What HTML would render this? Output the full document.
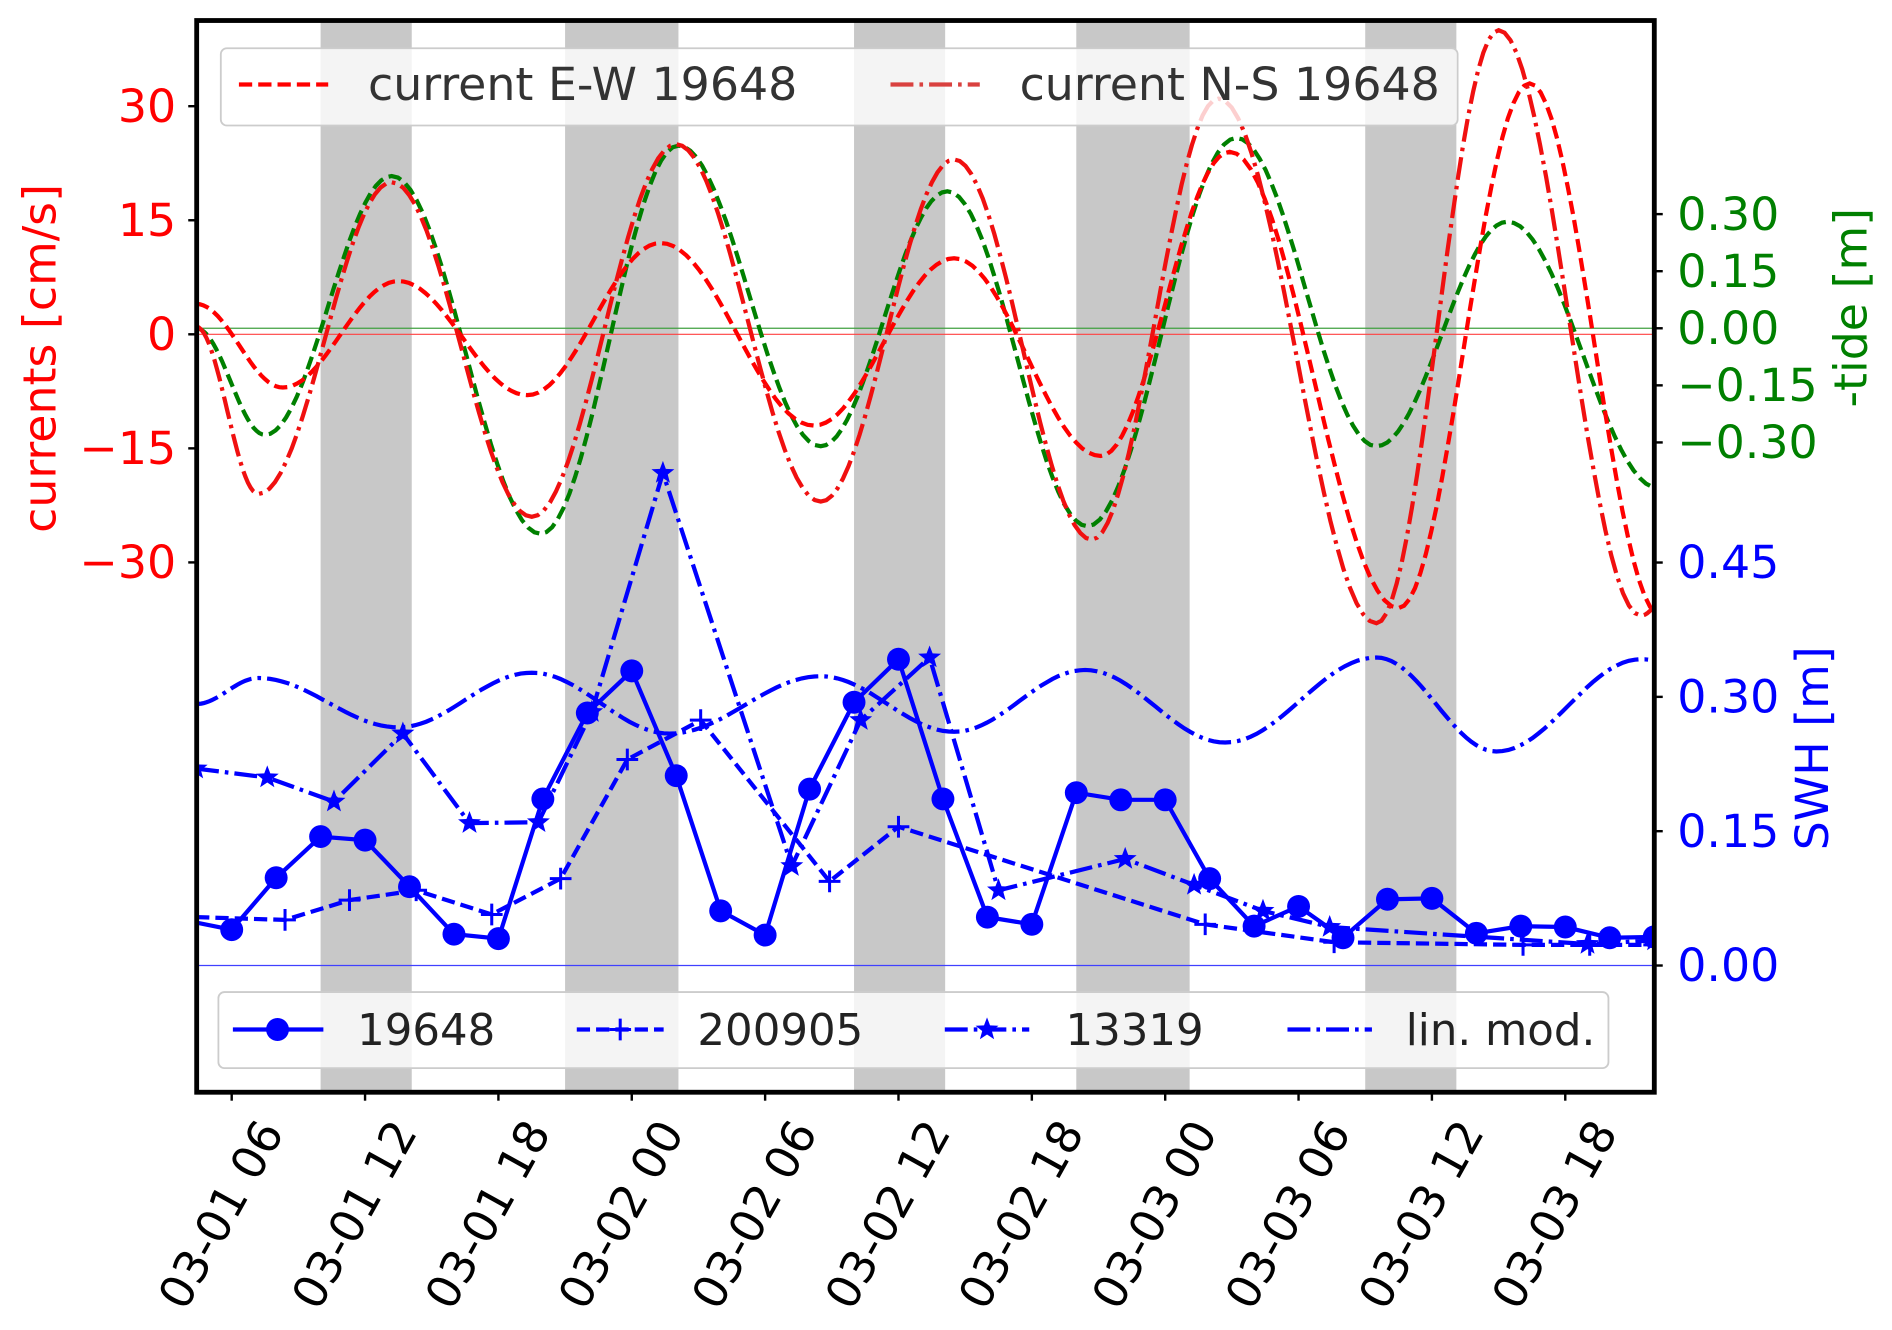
<!DOCTYPE html>
<html><head><meta charset="utf-8"><style>
html,body{margin:0;padding:0;background:#fff}
svg{display:block}
text{font-family:"DejaVu Sans","Liberation Sans",sans-serif}
</style></head><body>
<svg id="chart" width="1892" height="1330" viewBox="0 0 1568 1102" preserveAspectRatio="none" xmlns="http://www.w3.org/2000/svg">
<defs><clipPath id="clip"><rect x="163" y="17" width="1208" height="888"/></clipPath></defs>
<g id="bands" clip-path="url(#clip)"></g>
<g id="hlines" clip-path="url(#clip)"></g>
<g id="series" clip-path="url(#clip)"></g>
<g id="legends"></g>
<rect x="163" y="17" width="1208" height="888" fill="none" stroke="#000" stroke-width="4"/>
<g id="axes"></g>
</svg>
<script>
// ---- data (hours since 03-01 00) ----
const xTickHours = [6,12,18,24,30,36,42,48,54,60,66];
const xTickLabels = ["03-01 06","03-01 12","03-01 18","03-02 00","03-02 06","03-02 12","03-02 18","03-03 00","03-03 06","03-03 12","03-03 18"];
const bandStarts = [10,21,34,44,57];
const bandEnds = [14.1,26.1,38.1,49.1,61.1];
const currentTicks = [30,15,0,-15,-30];
const tideTicks = [0.30,0.15,0.00,-0.15,-0.30];
const swhTicks = [0.45,0.30,0.15,0.00];
// currents (cm/s) extremes
const nsHours = [4.4,7.2,13.2,19.5,26.0,32.5,38.5,44.7,50.4,57.5,63.0,69.4,70.5];
const nsValues = [1,-21,20,-24,25,-22,23,-27,31,-38,40,-37,-35];
const ewHours = [4.4,8.3,13.5,19.3,25.3,32.2,38.5,45.1,50.9,58.5,64.4,70.3];
const ewValues = [4,-7,7,-8,12,-12,10,-16,24,-36,33,-37];
// -tide (m) extremes
const tideHours = [4.4,7.5,13.2,19.9,26.1,32.5,38.2,44.5,51.2,57.5,63.4,70.2];
const tideValues = [0,-0.28,0.40,-0.54,0.48,-0.31,0.36,-0.52,0.50,-0.31,0.28,-0.42];
// lin. mod. SWH extremes
const linHours = [4.4,7.2,13.5,19.5,25.7,32.5,38.5,44.4,50.7,57.5,62.9,69.4,70.5];
const linValues = [0.292,0.321,0.266,0.327,0.259,0.323,0.261,0.330,0.249,0.344,0.239,0.342,0.340];
// SWH 19648 every 2h from 4h
const s19648Hours = [4,6,8,10,12,14,16,18,20,22,24,26,28,30,32,34,36,38,40,42,44,46,48,50,52,54,56,58,60,62,64,66,68,70];
const s19648Values = [0.050,0.040,0.098,0.144,0.140,0.088,0.035,0.030,0.186,0.282,0.329,0.212,0.061,0.034,0.197,0.294,0.342,0.186,0.054,0.046,0.193,0.185,0.185,0.097,0.044,0.066,0.031,0.074,0.075,0.036,0.044,0.043,0.031,0.032];
// SWH 200905
const s200905Hours = [4.4,8.4,11.3,14.3,17.7,20.8,23.8,27.1,32.9,36.0,49.8,55.6,64.1,67.1,70.0];
const s200905Values = [0.054,0.051,0.073,0.084,0.057,0.097,0.230,0.274,0.094,0.155,0.046,0.026,0.023,0.023,0.023];
// SWH 13319
const s13319Hours = [4.4,7.6,10.6,13.7,16.7,19.8,22.2,25.4,31.2,34.3,37.4,40.5,46.2,49.3,52.4,55.4,67.0,70.0];
const s13319Values = [0.220,0.210,0.183,0.259,0.159,0.160,0.283,0.550,0.111,0.274,0.344,0.084,0.119,0.090,0.061,0.043,0.024,0.028];

// ---- axis functions ----
const X = h => 81.5 + 18.42*h;
const YC = v => 277 - v*6.3;
const YT = v => 272 - v*315.3;
const YS = v => 800 - v*742;
const NS = "http://www.w3.org/2000/svg";
function mk(tag, attrs, parent){const e=document.createElementNS(NS,tag);for(const k in attrs)e.setAttribute(k,attrs[k]);parent.appendChild(e);return e;}
function smoothPath(hs, vs, yf){
  let d = "M"+X(hs[0]).toFixed(1)+","+yf(vs[0]).toFixed(1);
  for(let i=0;i<hs.length-1;i++){
    const steps=24;
    for(let s=1;s<=steps;s++){
      const t=s/steps, w=(1-Math.cos(Math.PI*t))/2;
      const h=hs[i]+(hs[i+1]-hs[i])*t, v=vs[i]+(vs[i+1]-vs[i])*w;
      d+=" L"+X(h).toFixed(1)+","+yf(v).toFixed(1);
    }
  }
  return d;
}
function linePath(hs, vs, yf){return hs.map((h,i)=>(i?"L":"M")+X(h).toFixed(1)+","+yf(vs[i]).toFixed(1)).join(" ");}
function starPts(cx,cy,r){let p=[];for(let i=0;i<10;i++){const a=-Math.PI/2+i*Math.PI/5, rr=i%2?r*0.42:r;p.push((cx+rr*Math.cos(a)).toFixed(1)+","+(cy+rr*Math.sin(a)).toFixed(1));}return p.join(" ");}
const DASH="11,5", DASHDOT="19,5,3,5";
const FS=38;

// bands
const bands=document.getElementById('bands');
bandStarts.forEach((b,i)=>{
  const r=mk('rect',{x:X(b),y:17,width:X(bandEnds[i])-X(b),height:888,fill:'#c8c8c8'},bands);
  
  
});
// zero lines
const hl=document.getElementById('hlines');
let z1=mk('line',{x1:163,x2:1371,y1:YC(0),y2:YC(0),stroke:'#ff4040','stroke-width':1},hl);

let z2=mk('line',{x1:163,x2:1371,y1:YT(0),y2:YT(0),stroke:'#40a040','stroke-width':1},hl);

let z3=mk('line',{x1:163,x2:1371,y1:YS(0),y2:YS(0),stroke:'#4040ff','stroke-width':1},hl);


const sg=document.getElementById('series');
let p;
p=mk('path',{d:smoothPath(tideHours,tideValues,YT),fill:'none',stroke:'#008000','stroke-width':3.5,'stroke-dasharray':DASH},sg);

p=mk('path',{d:smoothPath(ewHours,ewValues,YC),fill:'none',stroke:'#ff0000','stroke-width':3.5,'stroke-dasharray':DASH},sg);

p=mk('path',{d:smoothPath(nsHours,nsValues,YC),fill:'none',stroke:'#f01010','stroke-width':3.5,'stroke-dasharray':DASHDOT},sg);

p=mk('path',{d:smoothPath(linHours,linValues,YS),fill:'none',stroke:'#0000ff','stroke-width':3.5,'stroke-dasharray':DASHDOT},sg);

p=mk('path',{d:linePath(s200905Hours,s200905Values,YS),fill:'none',stroke:'#0000ff','stroke-width':3.5,'stroke-dasharray':DASH},sg);

s200905Hours.forEach((h,i)=>{
  const x=X(h),y=YS(s200905Values[i]);
  const m=mk('path',{d:`M${x-9},${y}H${x+9}M${x},${y-9}V${y+9}`,stroke:'#0000ff','stroke-width':2.5},sg);
  
});
p=mk('path',{d:linePath(s13319Hours,s13319Values,YS),fill:'none',stroke:'#0000ff','stroke-width':3.5,'stroke-dasharray':DASHDOT},sg);

s13319Hours.forEach((h,i)=>{
  const m=mk('polygon',{points:starPts(X(h),YS(s13319Values[i]),10),fill:'#0000ff'},sg);
  
});
p=mk('path',{d:linePath(s19648Hours,s19648Values,YS),fill:'none',stroke:'#0000ff','stroke-width':3.5},sg);

s19648Hours.forEach((h,i)=>{
  const m=mk('circle',{cx:X(h),cy:YS(s19648Values[i]),r:9.5,fill:'#0000ff'},sg);
  
});

// legends
const lg=document.getElementById('legends');
let box=mk('rect',{x:183,y:40,width:1025,height:64,rx:5,fill:'#fff','fill-opacity':0.8,stroke:'#ccc','stroke-width':1.5},lg);

let l=mk('line',{x1:198,x2:272,y1:70,y2:70,stroke:'#ff0000','stroke-width':3.5,'stroke-dasharray':DASH},lg);

let t=mk('text',{x:305,y:83,'font-size':FS,fill:'#333'},lg);t.textContent='current E-W 19648';

l=mk('line',{x1:738,x2:812,y1:70,y2:70,stroke:'#d9413f','stroke-width':3.5,'stroke-dasharray':DASHDOT},lg);

t=mk('text',{x:845,y:83,'font-size':FS,fill:'#333'},lg);t.textContent='current N-S 19648';


box=mk('rect',{x:181,y:822,width:1152,height:63,rx:5,fill:'#fff','fill-opacity':0.8,stroke:'#ccc','stroke-width':1.5},lg);

const ly=853;
l=mk('line',{x1:193,x2:268,y1:ly,y2:ly,stroke:'#0000ff','stroke-width':3.5},lg);

mk('circle',{cx:230,cy:ly,r:9.5,fill:'#0000ff'},lg);
t=mk('text',{x:296,y:866,'font-size':36,fill:'#222'},lg);t.textContent='19648';

l=mk('line',{x1:478,x2:550,y1:ly,y2:ly,stroke:'#0000ff','stroke-width':3.5,'stroke-dasharray':DASH},lg);

mk('path',{d:`M505,${ly}H523M514,${ly-9}V${ly+9}`,stroke:'#0000ff','stroke-width':2.5},lg);
t=mk('text',{x:578,y:866,'font-size':36,fill:'#222'},lg);t.textContent='200905';

l=mk('line',{x1:783,x2:853,y1:ly,y2:ly,stroke:'#0000ff','stroke-width':3.5,'stroke-dasharray':DASHDOT},lg);

mk('polygon',{points:starPts(818,ly,10),fill:'#0000ff'},lg);
t=mk('text',{x:883,y:866,'font-size':36,fill:'#222'},lg);t.textContent='13319';

l=mk('line',{x1:1067,x2:1137,y1:ly,y2:ly,stroke:'#0000ff','stroke-width':3.5,'stroke-dasharray':DASHDOT},lg);

t=mk('text',{x:1165,y:866,'font-size':36,fill:'#222'},lg);t.textContent='lin. mod.';


// axes
const ax=document.getElementById('axes');
currentTicks.forEach(v=>{
  const y=YC(v);
  mk('line',{x1:156,x2:163,y1:y,y2:y,stroke:'#000','stroke-width':2},ax);
  const tx=mk('text',{x:146,y:y+13,'font-size':FS,fill:'#ff0000','text-anchor':'end'},ax);
  tx.textContent=(v<0?'\u2212':'')+Math.abs(v);
  
});
tideTicks.forEach(v=>{
  const y=YT(v);
  mk('line',{x1:1371,x2:1378,y1:y,y2:y,stroke:'#000','stroke-width':2},ax);
  const tx=mk('text',{x:1390,y:y+13,'font-size':FS,fill:'#008000'},ax);
  tx.textContent=(v<0?'\u2212':'')+Math.abs(v).toFixed(2);
  
});
swhTicks.forEach(v=>{
  const y=YS(v);
  mk('line',{x1:1371,x2:1378,y1:y,y2:y,stroke:'#000','stroke-width':2},ax);
  const tx=mk('text',{x:1390,y:y+13,'font-size':FS,fill:'#0000ff'},ax);
  tx.textContent=v.toFixed(2);
  
});
xTickHours.forEach((h,i)=>{
  const x=X(h);
  mk('line',{x1:x,x2:x,y1:905,y2:912,stroke:'#000','stroke-width':2},ax);
  const ax0=x+44, ay0=938;
  const tx=mk('text',{x:ax0,y:ay0,'font-size':FS,fill:'#000','text-anchor':'end',transform:`rotate(-61 ${ax0} ${ay0})`},ax);
  tx.textContent=xTickLabels[i];
  
});
let at=mk('text',{x:0,y:0,'font-size':FS,fill:'#ff0000','text-anchor':'middle',transform:'translate(46,297) rotate(-90)'},ax);
at.textContent='currents [cm/s]';
at=mk('text',{x:0,y:0,'font-size':FS,fill:'#008000','text-anchor':'middle',transform:'translate(1547,255) rotate(-90)'},ax);
at.textContent='-tide [m]';
at=mk('text',{x:0,y:0,'font-size':FS,fill:'#0000ff','text-anchor':'middle',transform:'translate(1515,620) rotate(-90)'},ax);
at.textContent='SWH [m]';
</script>
</body></html>
